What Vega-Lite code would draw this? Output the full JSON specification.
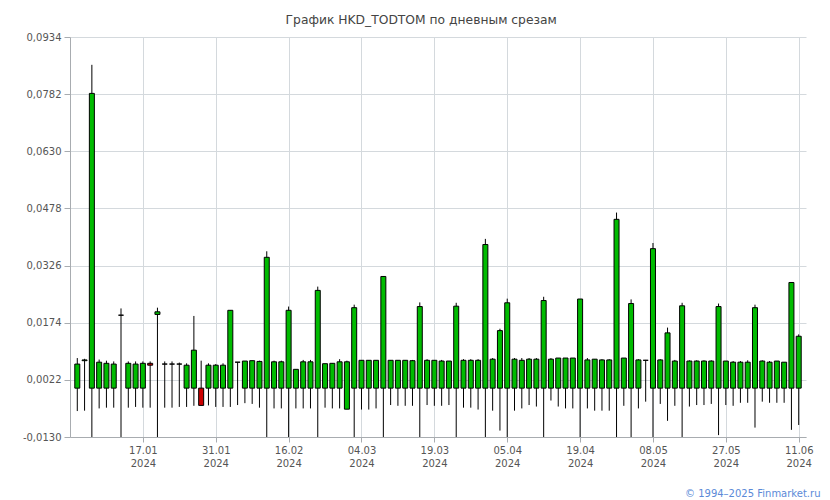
{
  "$schema": "https://vega.github.io/schema/vega-lite/v6.json",
  "width": 736,
  "height": 400,
  "autosize": {"type": "none"},
  "padding": {"left": 70, "top": 37, "right": 24, "bottom": 63},
  "background": "white",
  "config": {
    "view": {"stroke": null},
    "font": "DejaVu Sans",
    "axis": {"labelFont": "DejaVu Sans", "titleFont": "DejaVu Sans"}
  },
  "title": {
    "text": "График HKD_TODTOM по дневным срезам",
    "anchor": "middle",
    "frame": "bounds",
    "font": "DejaVu Sans",
    "fontSize": 12.3,
    "fontWeight": "normal",
    "color": "#444444",
    "offset": 6
  },
  "data": {
    "values": [
      {"d": "2024-01-03", "o": 0.0000, "c": 0.0064, "h": 0.0080, "l": -0.0061},
      {"d": "2024-01-04", "o": 0.0073, "c": 0.0075, "h": 0.0078, "l": -0.0060},
      {"d": "2024-01-05", "o": 0.0000, "c": 0.0784, "h": 0.0860, "l": -0.0130},
      {"d": "2024-01-09", "o": 0.0000, "c": 0.0069, "h": 0.0076, "l": -0.0054},
      {"d": "2024-01-10", "o": 0.0000, "c": 0.0066, "h": 0.0073, "l": -0.0052},
      {"d": "2024-01-11", "o": 0.0000, "c": 0.0064, "h": 0.0071, "l": -0.0052},
      {"d": "2024-01-12", "o": 0.0194, "c": 0.0194, "h": 0.0212, "l": -0.0130},
      {"d": "2024-01-15", "o": 0.0000, "c": 0.0066, "h": 0.0071, "l": -0.0052},
      {"d": "2024-01-16", "o": 0.0000, "c": 0.0064, "h": 0.0071, "l": -0.0050},
      {"d": "2024-01-17", "o": 0.0000, "c": 0.0066, "h": 0.0071, "l": -0.0052},
      {"d": "2024-01-18", "o": 0.0066, "c": 0.0061, "h": 0.0071, "l": -0.0052},
      {"d": "2024-01-19", "o": 0.0196, "c": 0.0203, "h": 0.0214, "l": -0.0130},
      {"d": "2024-01-22", "o": 0.0064, "c": 0.0064, "h": 0.0071, "l": -0.0052},
      {"d": "2024-01-23", "o": 0.0064, "c": 0.0064, "h": 0.0071, "l": -0.0052},
      {"d": "2024-01-24", "o": 0.0064, "c": 0.0064, "h": 0.0068, "l": -0.0050},
      {"d": "2024-01-25", "o": 0.0000, "c": 0.0061, "h": 0.0066, "l": -0.0050},
      {"d": "2024-01-26", "o": 0.0000, "c": 0.0101, "h": 0.0192, "l": -0.0047},
      {"d": "2024-01-29", "o": 0.0000, "c": -0.0046, "h": 0.0073, "l": -0.0046},
      {"d": "2024-01-30", "o": 0.0000, "c": 0.0061, "h": 0.0066, "l": -0.0046},
      {"d": "2024-01-31", "o": 0.0000, "c": 0.0061, "h": 0.0064, "l": -0.0050},
      {"d": "2024-02-01", "o": 0.0000, "c": 0.0061, "h": 0.0066, "l": -0.0050},
      {"d": "2024-02-02", "o": 0.0000, "c": 0.0207, "h": 0.0207, "l": -0.0050},
      {"d": "2024-02-05", "o": 0.0069, "c": 0.0069, "h": 0.0069, "l": -0.0045},
      {"d": "2024-02-06", "o": 0.0000, "c": 0.0072, "h": 0.0072, "l": -0.0040},
      {"d": "2024-02-07", "o": 0.0000, "c": 0.0073, "h": 0.0073, "l": -0.0042},
      {"d": "2024-02-08", "o": 0.0000, "c": 0.0071, "h": 0.0073, "l": -0.0052},
      {"d": "2024-02-09", "o": 0.0000, "c": 0.0348, "h": 0.0364, "l": -0.0130},
      {"d": "2024-02-12", "o": 0.0000, "c": 0.0070, "h": 0.0073, "l": -0.0054},
      {"d": "2024-02-13", "o": 0.0000, "c": 0.0070, "h": 0.0073, "l": -0.0054},
      {"d": "2024-02-16", "o": 0.0000, "c": 0.0207, "h": 0.0217, "l": -0.0130},
      {"d": "2024-02-19", "o": 0.0000, "c": 0.0050, "h": 0.0050, "l": -0.0054},
      {"d": "2024-02-20", "o": 0.0000, "c": 0.0070, "h": 0.0075, "l": -0.0054},
      {"d": "2024-02-21", "o": 0.0000, "c": 0.0070, "h": 0.0075, "l": -0.0054},
      {"d": "2024-02-22", "o": 0.0000, "c": 0.0260, "h": 0.0270, "l": -0.0130},
      {"d": "2024-02-26", "o": 0.0000, "c": 0.0065, "h": 0.0065, "l": -0.0052},
      {"d": "2024-02-27", "o": 0.0000, "c": 0.0066, "h": 0.0066, "l": -0.0054},
      {"d": "2024-02-28", "o": 0.0000, "c": 0.0070, "h": 0.0077, "l": -0.0054},
      {"d": "2024-02-29", "o": -0.0056, "c": 0.0070, "h": 0.0073, "l": -0.0056},
      {"d": "2024-03-01", "o": 0.0000, "c": 0.0214, "h": 0.0222, "l": -0.0130},
      {"d": "2024-03-04", "o": 0.0000, "c": 0.0074, "h": 0.0074, "l": -0.0057},
      {"d": "2024-03-05", "o": 0.0000, "c": 0.0074, "h": 0.0074, "l": -0.0057},
      {"d": "2024-03-06", "o": 0.0000, "c": 0.0074, "h": 0.0074, "l": -0.0054},
      {"d": "2024-03-07", "o": 0.0000, "c": 0.0297, "h": 0.0297, "l": -0.0130},
      {"d": "2024-03-11", "o": 0.0000, "c": 0.0074, "h": 0.0074, "l": -0.0045},
      {"d": "2024-03-12", "o": 0.0000, "c": 0.0074, "h": 0.0074, "l": -0.0047},
      {"d": "2024-03-13", "o": 0.0000, "c": 0.0074, "h": 0.0074, "l": -0.0047},
      {"d": "2024-03-14", "o": 0.0000, "c": 0.0073, "h": 0.0075, "l": -0.0047},
      {"d": "2024-03-15", "o": 0.0000, "c": 0.0217, "h": 0.0228, "l": -0.0130},
      {"d": "2024-03-18", "o": 0.0000, "c": 0.0074, "h": 0.0077, "l": -0.0045},
      {"d": "2024-03-19", "o": 0.0000, "c": 0.0074, "h": 0.0074, "l": -0.0047},
      {"d": "2024-03-20", "o": 0.0000, "c": 0.0072, "h": 0.0075, "l": -0.0047},
      {"d": "2024-03-21", "o": 0.0000, "c": 0.0072, "h": 0.0072, "l": -0.0045},
      {"d": "2024-03-22", "o": 0.0000, "c": 0.0218, "h": 0.0227, "l": -0.0130},
      {"d": "2024-03-25", "o": 0.0000, "c": 0.0074, "h": 0.0077, "l": -0.0052},
      {"d": "2024-03-26", "o": 0.0000, "c": 0.0074, "h": 0.0077, "l": -0.0052},
      {"d": "2024-03-27", "o": 0.0000, "c": 0.0074, "h": 0.0077, "l": -0.0057},
      {"d": "2024-03-28", "o": 0.0000, "c": 0.0382, "h": 0.0397, "l": -0.0130},
      {"d": "2024-03-29", "o": 0.0000, "c": 0.0077, "h": 0.0080, "l": -0.0060},
      {"d": "2024-04-01", "o": 0.0000, "c": 0.0153, "h": 0.0158, "l": -0.0113},
      {"d": "2024-04-05", "o": 0.0000, "c": 0.0227, "h": 0.0238, "l": -0.0130},
      {"d": "2024-04-08", "o": 0.0000, "c": 0.0077, "h": 0.0080, "l": -0.0060},
      {"d": "2024-04-09", "o": 0.0000, "c": 0.0074, "h": 0.0080, "l": -0.0054},
      {"d": "2024-04-10", "o": 0.0000, "c": 0.0077, "h": 0.0080, "l": -0.0045},
      {"d": "2024-04-11", "o": 0.0000, "c": 0.0077, "h": 0.0080, "l": -0.0049},
      {"d": "2024-04-12", "o": 0.0000, "c": 0.0233, "h": 0.0243, "l": -0.0130},
      {"d": "2024-04-15", "o": 0.0000, "c": 0.0077, "h": 0.0080, "l": -0.0033},
      {"d": "2024-04-16", "o": 0.0000, "c": 0.0080, "h": 0.0080, "l": -0.0049},
      {"d": "2024-04-17", "o": 0.0000, "c": 0.0080, "h": 0.0080, "l": -0.0054},
      {"d": "2024-04-18", "o": 0.0000, "c": 0.0080, "h": 0.0080, "l": -0.0054},
      {"d": "2024-04-19", "o": 0.0000, "c": 0.0237, "h": 0.0237, "l": -0.0130},
      {"d": "2024-04-22", "o": 0.0000, "c": 0.0075, "h": 0.0080, "l": -0.0054},
      {"d": "2024-04-23", "o": 0.0000, "c": 0.0077, "h": 0.0077, "l": -0.0060},
      {"d": "2024-04-24", "o": 0.0000, "c": 0.0075, "h": 0.0077, "l": -0.0060},
      {"d": "2024-04-25", "o": 0.0000, "c": 0.0075, "h": 0.0077, "l": -0.0060},
      {"d": "2024-04-26", "o": 0.0000, "c": 0.0449, "h": 0.0467, "l": -0.0130},
      {"d": "2024-05-02", "o": 0.0000, "c": 0.0080, "h": 0.0080, "l": -0.0047},
      {"d": "2024-05-03", "o": 0.0000, "c": 0.0225, "h": 0.0236, "l": -0.0130},
      {"d": "2024-05-06", "o": 0.0000, "c": 0.0075, "h": 0.0077, "l": -0.0054},
      {"d": "2024-05-07", "o": 0.0074, "c": 0.0074, "h": 0.0075, "l": -0.0036},
      {"d": "2024-05-08", "o": 0.0000, "c": 0.0371, "h": 0.0386, "l": -0.0130},
      {"d": "2024-05-14", "o": 0.0000, "c": 0.0075, "h": 0.0077, "l": -0.0042},
      {"d": "2024-05-15", "o": 0.0000, "c": 0.0147, "h": 0.0161, "l": -0.0087},
      {"d": "2024-05-16", "o": 0.0000, "c": 0.0072, "h": 0.0075, "l": -0.0047},
      {"d": "2024-05-17", "o": 0.0000, "c": 0.0219, "h": 0.0227, "l": -0.0130},
      {"d": "2024-05-20", "o": 0.0000, "c": 0.0072, "h": 0.0074, "l": -0.0049},
      {"d": "2024-05-21", "o": 0.0000, "c": 0.0072, "h": 0.0074, "l": -0.0045},
      {"d": "2024-05-22", "o": 0.0000, "c": 0.0072, "h": 0.0074, "l": -0.0045},
      {"d": "2024-05-23", "o": 0.0000, "c": 0.0072, "h": 0.0074, "l": -0.0042},
      {"d": "2024-05-24", "o": 0.0000, "c": 0.0217, "h": 0.0225, "l": -0.0125},
      {"d": "2024-05-27", "o": 0.0000, "c": 0.0072, "h": 0.0072, "l": -0.0045},
      {"d": "2024-05-28", "o": 0.0000, "c": 0.0069, "h": 0.0072, "l": -0.0047},
      {"d": "2024-05-29", "o": 0.0000, "c": 0.0069, "h": 0.0072, "l": -0.0039},
      {"d": "2024-05-30", "o": 0.0000, "c": 0.0069, "h": 0.0074, "l": -0.0039},
      {"d": "2024-05-31", "o": 0.0000, "c": 0.0214, "h": 0.0222, "l": -0.0105},
      {"d": "2024-06-03", "o": 0.0000, "c": 0.0072, "h": 0.0074, "l": -0.0036},
      {"d": "2024-06-04", "o": 0.0000, "c": 0.0069, "h": 0.0072, "l": -0.0039},
      {"d": "2024-06-05", "o": 0.0000, "c": 0.0072, "h": 0.0072, "l": -0.0039},
      {"d": "2024-06-06", "o": 0.0000, "c": 0.0069, "h": 0.0069, "l": -0.0039},
      {"d": "2024-06-10", "o": 0.0000, "c": 0.0281, "h": 0.0281, "l": -0.0111},
      {"d": "2024-06-11", "o": 0.0000, "c": 0.0138, "h": 0.0143, "l": -0.0098}
    ]
  },
  "encoding": {
    "x": {
      "field": "d",
      "type": "ordinal",
      "sort": null,
      "scale": {"type": "point", "padding": 1},
      "axis": {
        "values": ["2024-01-17", "2024-01-31", "2024-02-16", "2024-03-04", "2024-03-19", "2024-04-05", "2024-04-19", "2024-05-08", "2024-05-27", "2024-06-11"],
        "labelExpr": "[slice(datum.value,8,10) + '.' + slice(datum.value,5,7), slice(datum.value,0,4)]",
        "labelAngle": 0,
        "labelFontSize": 10,
        "labelColor": "#555555",
        "labelLineHeight": 13,
        "labelPadding": 3,
        "grid": true,
        "gridColor": "#d4d9dd",
        "domainColor": "#a8acb0",
        "tickColor": "#a8acb0",
        "tickSize": 5,
        "title": "© 1994–2025 Finmarket.ru",
        "titleFontSize": 10,
        "titleFontWeight": "normal",
        "titleColor": "#5b8ad8",
        "titleAnchor": "end",
        "titleAlign": "right",
        "titleBaseline": "alphabetic",
        "titleX": 750,
        "titleY": 59
      }
    }
  },
  "layer": [
    {
      "mark": {"type": "rule", "color": "black", "strokeWidth": 1},
      "encoding": {
        "y": {
          "field": "l",
          "type": "quantitative",
          "scale": {"domain": [-0.013, 0.0934], "nice": false, "zero": false},
          "axis": {
            "values": [-0.013, 0.0022, 0.0174, 0.0326, 0.0478, 0.063, 0.0782, 0.0934],
            "labelExpr": "replace(replace(format(datum.value, '.4f'), '.', ','), '−', '-')",
            "labelFontSize": 10,
            "labelColor": "#555555",
            "labelPadding": 3,
            "grid": true,
            "gridColor": "#d4d9dd",
            "domainColor": "#a8acb0",
            "tickColor": "#a8acb0",
            "tickSize": 6,
            "title": null
          }
        },
        "y2": {"field": "h"}
      }
    },
    {
      "mark": {"type": "bar", "size": 5, "stroke": "black", "strokeWidth": 1},
      "encoding": {
        "y": {"field": "o", "type": "quantitative"},
        "y2": {"field": "c"},
        "fill": {
          "condition": {"test": "datum.c < datum.o", "value": "#cc0000"},
          "value": "#00bb00"
        }
      }
    }
  ]
}
